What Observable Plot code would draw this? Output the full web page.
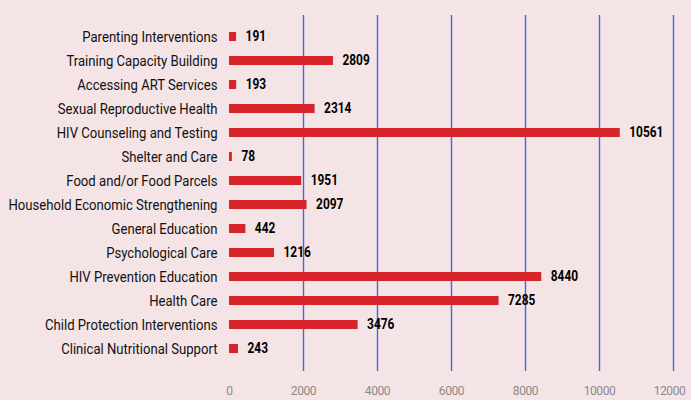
<!DOCTYPE html>
<html><head><meta charset="utf-8">
<script src="https://cdn.jsdelivr.net/npm/d3@7"></script>
<script src="https://cdn.jsdelivr.net/npm/@observablehq/plot@0.6"></script>
<style>
body{margin:0;background:#f4e4e6;}
#c{width:691px;height:400px;overflow:hidden;}
</style></head><body><div id="c"></div>
<script>
const categories = ["Parenting Interventions","Training Capacity Building","Accessing ART Services","Sexual Reproductive Health","HIV Counseling and Testing","Shelter and Care","Food and/or Food Parcels","Household Economic Strengthening","General Education","Psychological Care","HIV Prevention Education","Health Care","Child Protection Interventions","Clinical Nutritional Support"];
const values = [191,2809,193,2314,10561,78,1951,2097,442,1216,8440,7285,3476,243];
const xTicks = [0,2000,4000,6000,8000,10000,12000];
const gridTicks = [2000,4000,6000,8000,10000,12000];
const data = categories.map((c,i)=>({cat:c,val:values[i]}));
const chart = Plot.plot({
  width:691, height:400,
  marginLeft:229, marginRight:18, marginTop:15, marginBottom:29,
  style:{background:"#f4e4e6", fontFamily:"Roboto, 'Liberation Sans', sans-serif", overflow:"visible"},
  x:{domain:[0,12000], ticks:xTicks, tickSize:0, tickPadding:15, label:null, tickFormat:d=>String(d)},
  y:{domain:categories, padding:0.62, label:null, axis:null},
  marks:[
    Plot.ruleX(gridTicks,{stroke:"#3f68e0", strokeWidth:1.4}),
    Plot.barX(data,{y:"cat", x:"val", fill:"#d7242b"}),
    Plot.text(data,{y:"cat", x:"val", text:d=>String(d.val), dx:9, textAnchor:"start", fontWeight:"bold", fontSize:14, fill:"#000", className:"vlab"}),
    Plot.text(data,{y:"cat", x:0, text:"cat", dx:-12, textAnchor:"end", fontSize:15, fontWeight:400, fill:"#111", className:"clab"}),
  ]
});
const g = chart.querySelector('[aria-label="x-axis tick label"]');
if(g){g.setAttribute("font-size","12");g.setAttribute("fill","#8a8a8a");g.setAttribute("letter-spacing","-0.4");}
document.getElementById("c").appendChild(chart);
// condense text to mimic the narrow font of the original
const cl = Array.from(chart.querySelectorAll('.clab text'));
let ref = cl.find(t=>t.textContent==="Household Economic Strengthening");
const k = ref ? 209/ref.getComputedTextLength() : 0.85;
cl.forEach(t=>{const w=t.getComputedTextLength();t.setAttribute("textLength",w*k);t.setAttribute("lengthAdjust","spacingAndGlyphs");});
chart.querySelectorAll('.vlab text').forEach(t=>{const w=t.getComputedTextLength();t.setAttribute("textLength",w*0.85);t.setAttribute("lengthAdjust","spacingAndGlyphs");});
const tl = Array.from(chart.querySelectorAll('[aria-label="x-axis tick label"] text'));
if(tl.length){tl[tl.length-1].setAttribute("dx","-4");}
</script></body></html>
